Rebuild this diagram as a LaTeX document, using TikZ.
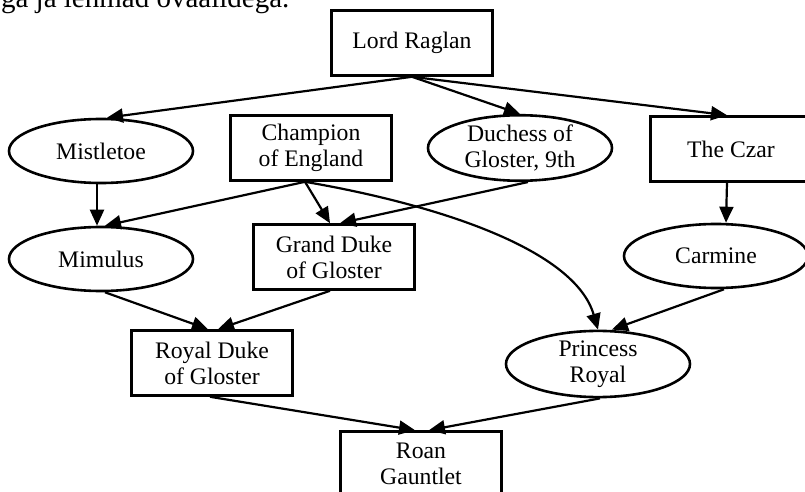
\documentclass[tikz,border=0pt]{standalone}
\usepackage{fontspec}
\setmainfont{Liberation Serif}
\usetikzlibrary{shapes.geometric,arrows.meta}
\tikzset{
  bull/.style={draw,line width=1.3pt,minimum width=80.5pt,minimum height=32.5pt,align=center,inner sep=1pt},
  cow/.style={draw,ellipse,line width=1.3pt,minimum width=92pt,minimum height=32pt,align=center,inner sep=0pt}
}
\begin{document}
\begin{tikzpicture}[x=0.5pt,y=-0.5pt,line width=1.1pt,font=\fontsize{11.85}{13}\selectfont,
    >={Triangle[length=8pt,width=7pt]}]
      \useasboundingbox (0,0) rectangle (805,492);
      \node [anchor=base west,inner sep=0pt,font=\fontsize{14.5}{17}\selectfont] (0) at (0,8) {ga ja lehmad ovaalidega.};
      \node [bull] (1) at (412,43) {Lord Raglan};
      \node [cow] (2) at (101,151) {Mistletoe};
      \node [bull] (3) at (311,148) {Champion\\of England};
      \node [cow] (4) at (520,148) {Duchess of\\Gloster, 9th};
      \node [bull] (5) at (731,149) {The Czar};
      \node [cow] (6) at (101,259) {Mimulus};
      \node [bull] (7) at (334,257) {Grand Duke\\of Gloster};
      \node [cow] (8) at (716,256) {Carmine};
      \node [bull] (9) at (212,363) {Royal Duke\\of Gloster};
      \node [cow] (10) at (598,364) {Princess\\Royal};
      \node [bull] (11) at (421,464) {Roan\\Gauntlet};

      \draw[->] (1.south) -- ([xshift=3pt]2.north);
      \draw[->] (1.south) -- (4.north);
      \draw[->] (1.south) -- ([xshift=-2pt]5.north);
      \draw[->] ([xshift=-2pt]2.south) -- ([xshift=-2pt]6.north);
      \draw[->] ([xshift=-3pt]3.south) -- ([xshift=2pt]6.north);
      \draw[->] ([xshift=-3pt]3.south) -- ([xshift=-2pt]7.north);
      \draw[->] ([xshift=4pt]4.south) -- ([xshift=3pt]7.north);
      \draw[->] ([xshift=-3pt]3.south) .. controls (440,205) and (575,250) .. (10.north);
      \draw[->] ([xshift=-2pt]5.south) -- ([xshift=5pt]8.north);
      \draw[->] ([xshift=4pt]8.south) -- ([xshift=7pt]10.north);
      \draw[->] ([xshift=2pt]6.south) -- ([xshift=-2pt]9.north);
      \draw[->] ([xshift=-2pt]7.south) -- ([xshift=3pt]9.north);
      \draw[->] ([xshift=-1pt]9.south) -- ([xshift=-3pt]11.north);
      \draw[->] ([xshift=1pt]10.south) -- ([xshift=4pt]11.north);
    \end{tikzpicture}
\end{document}
